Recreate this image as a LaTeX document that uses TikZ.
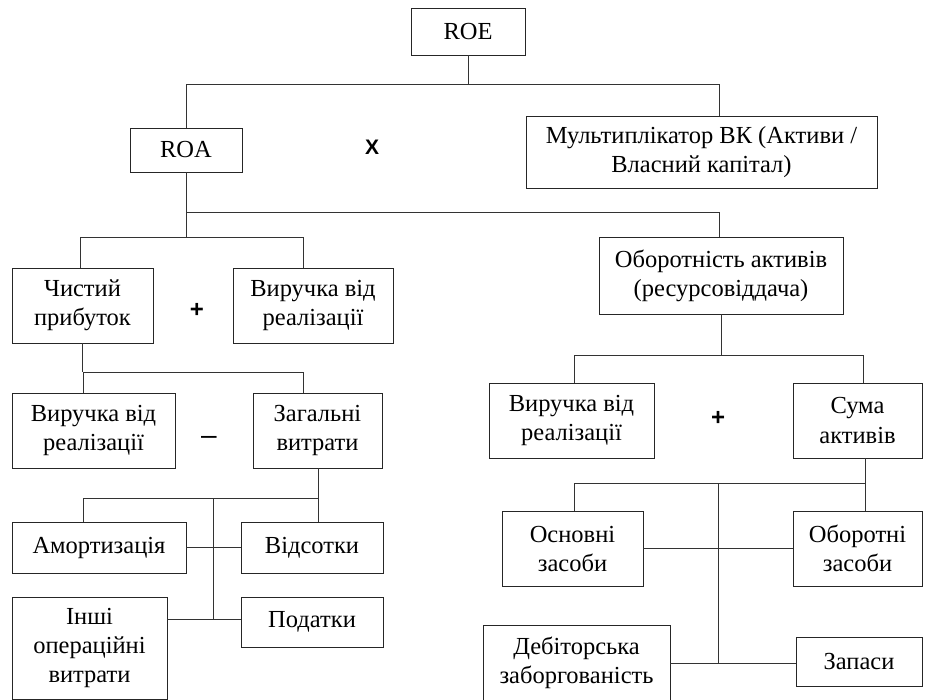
\documentclass[tikz,border=0pt]{standalone}
\usepackage{fontspec}
\setmainfont{Liberation Serif}
\newfontfamily\symfont{Liberation Sans}
\begin{document}
\begin{tikzpicture}[x=1pt,y=-1pt,
  box/.style={draw=black!85, line width=0.9pt, inner sep=0pt, outer sep=0pt, align=center, font=\fontsize{24.5}{29}\selectfont},
  conn/.style={draw=black!80, line width=0.9pt},
  sym/.style={inner sep=0pt, font=\symfont\bfseries\fontsize{24}{28}\selectfont}]
\useasboundingbox (0,0) rectangle (925,699);
% boxes
\node[box, minimum width=114pt, minimum height=47pt] (roe) at (468,31.5) {ROE};
\node[box, minimum width=112pt, minimum height=44pt] (roa) at (186,150) {ROA};
\node[box, minimum width=351pt, minimum height=72pt] (mult) at (701.5,152) {Мультиплікатор ВК (Активи /\\Власний капітал)};
\node[box, minimum width=141pt, minimum height=75pt] (chp) at (82.5,305.5) {Чистий\\прибуток};
\node[box, minimum width=160pt, minimum height=75pt] (vr1) at (313,305.5) {Виручка від\\реалізації};
\node[box, minimum width=163pt, minimum height=75pt] (vr2) at (93.5,430.5) {Виручка від\\реалізації};
\node[box, minimum width=129pt, minimum height=75pt] (zv) at (317.5,430.5) {Загальні\\витрати};
\node[box, minimum width=174pt, minimum height=51pt] (am) at (99,547.5) {Амортизація};
\node[box, minimum width=142pt, minimum height=51pt] (vid) at (312,547.5) {Відсотки};
\node[box, minimum width=155pt, minimum height=102pt] (inshi) at (89.5,648) {Інші\\операційні\\витрати};
\node[box, minimum width=142pt, minimum height=50pt] (pod) at (312,622) {Податки};
\node[box, minimum width=244pt, minimum height=77pt] (ob) at (721,275.5) {Оборотність активів\\(ресурсовіддача)};
\node[box, minimum width=165pt, minimum height=75pt] (vr3) at (571.5,420.5) {Виручка від\\реалізації};
\node[box, minimum width=129pt, minimum height=75pt] (suma) at (857.5,420.5) {Сума\\активів};
\node[box, minimum width=141pt, minimum height=75pt] (osn) at (572.5,548.5) {Основні\\засоби};
\node[box, minimum width=129pt, minimum height=75pt] (obz) at (857.5,548.5) {Оборотні\\засоби};
\node[box, minimum width=187pt, minimum height=75pt] (deb) at (576.5,662.5) {Дебіторська\\заборгованість};
\node[box, minimum width=126pt, minimum height=49pt] (zap) at (859,661.5) {Запаси};
% operators
\node[sym, font=\symfont\bfseries\fontsize{21}{26}\selectfont] (opx) at (372,147) {X};
\node[sym] (opp1) at (197,310) {+};
\node[sym, font=\symfont\fontsize{28}{32}\selectfont] (opm) at (209,440) {–};
\node[sym] (opp2) at (718,418) {+};
% level 1
\coordinate (j1l) at (186,84); \coordinate (j1r) at (719,84);
\draw[conn] (roe.south) -- (roe.south |- j1l);
\draw[conn] (j1l) -- (j1r);
\draw[conn] (j1l) -- (roa.north);
\draw[conn] (j1r) -- (j1r |- mult.north);
% level 2
\coordinate (j2a) at (186,212); \coordinate (j2b) at (719,212);
\coordinate (j3l) at (80,237); \coordinate (j3r) at (303,237);
\draw[conn] (roa.south) -- (roa.south |- j3l);
\draw[conn] (j2a) -- (j2b) -- (j2b |- ob.north);
\draw[conn] (j3l) -- (j3r);
\draw[conn] (j3l) -- (j3l |- chp.north);
\draw[conn] (j3r) -- (j3r |- vr1.north);
% net profit
\coordinate (j4l) at (83,372); \coordinate (j4r) at (303,372);
\draw[conn] (chp.south) -- (chp.south |- j4l);
\draw[conn] (j4l) -- (j4r);
\draw[conn] (j4l) -- (j4l |- vr2.north);
\draw[conn] (j4r) -- (j4r |- zv.north);
% expenses
\coordinate (j5l) at (83,498); \coordinate (j5r) at (318,498); \coordinate (j5c) at (213,498); \coordinate (j5d) at (213,619);
\draw[conn] (j5r |- zv.south) -- (j5r |- vid.north);
\draw[conn] (j5l) -- (j5r);
\draw[conn] (j5l) -- (j5l |- am.north);
\draw[conn] (j5c) -- (j5d);
\draw[conn] (am.east) -- (vid.west);
\draw[conn] (inshi.east |- j5d) -- (pod.west |- j5d);
% turnover
\coordinate (j6l) at (574,355); \coordinate (j6r) at (863,355);
\draw[conn] (j6l -| ob.south) -- (ob.south);
\draw[conn] (j6l) -- (j6r);
\draw[conn] (j6l) -- (j6l |- vr3.north);
\draw[conn] (j6r) -- (j6r |- suma.north);
% assets
\coordinate (j7l) at (574,483); \coordinate (j7r) at (865,483); \coordinate (j7c) at (718,483); \coordinate (j7d) at (718,663);
\draw[conn] (j7r |- suma.south) -- (j7r |- obz.north);
\draw[conn] (j7l) -- (j7r);
\draw[conn] (j7l) -- (j7l |- osn.north);
\draw[conn] (j7c) -- (j7d);
\draw[conn] (osn.east) -- (obz.west);
\draw[conn] (deb.east |- j7d) -- (zap.west |- j7d);
\end{tikzpicture}
\end{document}
